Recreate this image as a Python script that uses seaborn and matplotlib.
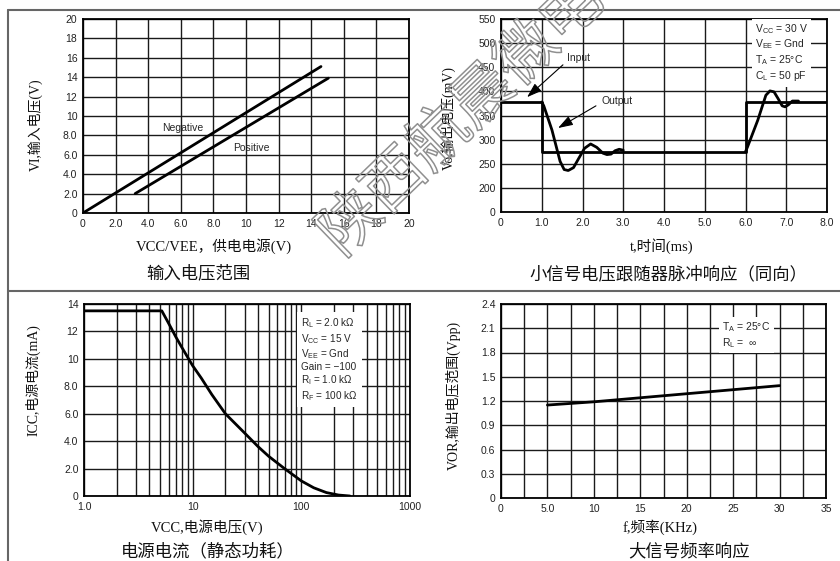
import numpy as np
import pandas as pd
import matplotlib
matplotlib.use("Agg")
import matplotlib.pyplot as plt
import matplotlib.patheffects as pe
from matplotlib.lines import Line2D
from matplotlib.ticker import FixedLocator, NullFormatter, LogLocator
import seaborn as sns

# ---------------- data ----------------
# Panel 1: input voltage range
neg_vcc = [0.0, 14.6]
neg_vi = [0.0, 15.1]
pos_vcc = [3.2, 15.05]
pos_vi = [2.0, 13.9]

# Panel 2: pulse response
in_t = [0.0, 1.0, 1.0, 6.0, 6.0, 8.0]
in_v = [378, 378, 275, 275, 378, 378]
out1_t = [1.0, 1.05, 1.25, 1.45, 1.55, 1.65, 1.78, 1.9, 2.05, 2.2, 2.35, 2.5, 2.6, 2.7, 2.8, 2.9, 3.0]
out1_v = [378, 370, 320, 255, 238, 236, 242, 260, 282, 291, 284, 272, 269, 270, 277, 280, 278]
out2_t = [6.0, 6.05, 6.3, 6.5, 6.6, 6.7, 6.8, 6.9, 6.97, 7.05, 7.15, 7.3]
out2_v = [275, 285, 340, 392, 401, 399, 385, 370, 368, 372, 380, 380]

# Panel 3: supply current
icc_v = [1.0, 5.2, 6, 7, 8, 10, 12, 15, 20, 30, 40, 50, 70, 100, 130, 170, 220, 280]
icc_i = [13.5, 13.5, 12.6, 11.6, 10.8, 9.5, 8.6, 7.4, 6.0, 4.6, 3.6, 2.9, 2.0, 1.1, 0.6, 0.25, 0.07, 0.0]

# Panel 4: large signal frequency response
f_khz = [5, 10, 15, 20, 25, 30]
vor = [1.15, 1.19, 1.24, 1.29, 1.34, 1.39]

# tick labels
p1_ticks = list(range(0, 21, 2))
p1_labels = ['0', '2.0', '4.0', '6.0', '8.0', '10', '12', '14', '16', '18', '20']
p2_xticks = list(range(0, 9))
p2_xlabels = ['0', '1.0', '2.0', '3.0', '4.0', '5.0', '6.0', '7.0', '8.0']
p2_yticks = [0, 200, 250, 300, 350, 400, 450, 500, 550]
p2_ylabels = ['0', '200', '250', '300', '350', '400', '450', '500', '550']
p3_xticks = [1, 10, 100, 1000]
p3_xlabels = ['1.0', '10', '100', '1000']
p3_yticks = list(range(0, 15, 2))
p3_ylabels = ['0', '2.0', '4.0', '6.0', '8.0', '10', '12', '14']
p4_xticks = list(range(0, 36, 5))
p4_xlabels = ['0', '5.0', '10', '15', '20', '25', '30', '35']
p4_yticks = [0, 0.3, 0.6, 0.9, 1.2, 1.5, 1.8, 2.1, 2.4]
p4_ylabels = ['0', '0.3', '0.6', '0.9', '1.2', '1.5', '1.8', '2.1', '2.4']

# ---------------- style ----------------
sns.set_style("white")
plt.rcParams['font.family'] = ['Liberation Sans', 'DejaVu Sans']
plt.rcParams['mathtext.fontset'] = 'custom'
plt.rcParams['mathtext.rm'] = 'Liberation Sans'

SERIF = ['Liberation Serif', 'Noto Sans CJK SC']
CJK = ['Noto Sans CJK SC', 'Liberation Serif']
W, H = 840, 561
fig = plt.figure(figsize=(W / 100, H / 100), dpi=100)


def rect(x0, y0, x1, y1):
    return [x0 / W, 1 - y1 / H, (x1 - x0) / W, (y1 - y0) / H]


def style_ax(ax):
    ax.grid(True, which='both', color='#1a1a1a', lw=1.0)
    ax.set_axisbelow(True)
    for s in ax.spines.values():
        s.set_color('black')
        s.set_linewidth(1.3)
    ax.tick_params(length=0, pad=4, labelsize=7.5, labelcolor='#222')
    ax.tick_params(which='minor', length=0)
    ax.set_xlabel('')
    ax.set_ylabel('')


def ftext(x, y, s, size, rot=0, fam=SERIF):
    fig.text(x / W, 1 - y / H, s, fontsize=size, rotation=rot, family=fam,
             ha='center', va='center', color='#111')


LW = 2.0

# ---- Panel 1 ----
ax1 = fig.add_axes(rect(83, 19, 409, 213))
sns.lineplot(x=neg_vcc, y=neg_vi, ax=ax1, color='black', lw=LW, sort=False, estimator=None)
sns.lineplot(x=pos_vcc, y=pos_vi, ax=ax1, color='black', lw=LW, sort=False, estimator=None)
ax1.set_xlim(0, 20)
ax1.set_ylim(0, 20)
ax1.set_xticks(p1_ticks, p1_labels)
ax1.set_yticks(p1_ticks, p1_labels)
style_ax(ax1)
ax1.text(4.83, 8.8, 'Negative', fontsize=7.5, va='center', ha='left')
ax1.text(9.2, 6.75, 'Positive', fontsize=7.5, va='center', ha='left')

# ---- Panel 2 ----
ax2 = fig.add_axes(rect(501, 19, 827, 212))


def fwd(v):
    v = np.asarray(v, dtype=float)
    return np.where(v < 200, v / 200.0, (v - 150.0) / 50.0)


def inv(p):
    p = np.asarray(p, dtype=float)
    return np.where(p < 1, p * 200.0, p * 50.0 + 150.0)


ax2.set_yscale('function', functions=(fwd, inv))
sns.lineplot(x=in_t, y=in_v, ax=ax2, color='black', lw=LW, sort=False, estimator=None)
sns.lineplot(x=out1_t, y=out1_v, ax=ax2, color='black', lw=LW, sort=False, estimator=None)
sns.lineplot(x=out2_t, y=out2_v, ax=ax2, color='black', lw=LW, sort=False, estimator=None)
ax2.set_xlim(0, 8)
ax2.set_ylim(0, 550)
ax2.set_xticks(p2_xticks, p2_xlabels)
ax2.yaxis.set_major_locator(FixedLocator(p2_yticks))
ax2.set_yticks(p2_yticks, p2_ylabels)
ax2.yaxis.set_minor_formatter(NullFormatter())
ax2.yaxis.set_minor_locator(FixedLocator([]))
style_ax(ax2)
arrow = dict(arrowstyle='-|>,head_length=0.9,head_width=0.3', lw=0.8, color='black',
             shrinkA=0, shrinkB=0)
ax2.annotate('', xy=(0.64, 388), xytext=(1.52, 455), arrowprops=arrow)
ax2.text(1.61, 469, 'Input', fontsize=7.5, va='center', ha='left')
ax2.annotate('', xy=(1.40, 324), xytext=(2.33, 370), arrowprops=arrow)
ax2.text(2.47, 380, 'Output', fontsize=7.5, va='center', ha='left')
ax2.text(0.779, 0.985,
         'V$_\\mathregular{CC}$ = 30 V\nV$_\\mathregular{EE}$ = Gnd\n'
         'T$_\\mathregular{A}$ = 25°C\nC$_\\mathregular{L}$ = 50 pF',
         transform=ax2.transAxes, fontsize=7.5, va='top', ha='left', linespacing=1.2,
         bbox=dict(facecolor='white', edgecolor='none', pad=2.5))

# ---- Panel 3 ----
ax3 = fig.add_axes(rect(84, 304, 410, 496))
ax3.set_xscale('log')
sns.lineplot(x=icc_v, y=icc_i, ax=ax3, color='black', lw=LW, sort=False, estimator=None)
ax3.set_xlim(1, 1000)
ax3.set_ylim(0, 14)
ax3.set_xticks(p3_xticks, p3_xlabels)
ax3.xaxis.set_minor_locator(LogLocator(base=10, subs=np.arange(2, 10)))
ax3.xaxis.set_minor_formatter(NullFormatter())
ax3.set_yticks(p3_yticks, p3_ylabels)
style_ax(ax3)
ax3.text(0.665, 0.935,
         'R$_\\mathregular{L}$ = 2.0 kΩ\nV$_\\mathregular{CC}$ = 15 V\nV$_\\mathregular{EE}$ = Gnd\n'
         'Gain = −100\nR$_\\mathregular{I}$ = 1.0 kΩ\nR$_\\mathregular{F}$ = 100 kΩ',
         transform=ax3.transAxes, fontsize=7.2, va='top', ha='left', linespacing=1.15,
         bbox=dict(facecolor='white', edgecolor='none', pad=3))

# ---- Panel 4 ----
ax4 = fig.add_axes(rect(501, 304, 826, 498))
sns.lineplot(x=f_khz, y=vor, ax=ax4, color='black', lw=LW, sort=False, estimator=None)
ax4.set_xlim(0, 35)
ax4.set_ylim(0, 2.4)
ax4.set_xticks(p4_xticks, p4_xlabels)
ax4.xaxis.set_minor_locator(FixedLocator(np.arange(2.5, 35, 5)))
ax4.set_yticks(p4_yticks, p4_ylabels)
style_ax(ax4)
ax4.text(0.68, 0.915, 'T$_\\mathregular{A}$ = 25°C\nR$_\\mathregular{L}$ =  ∞',
         transform=ax4.transAxes, fontsize=7.5, va='top', ha='left', linespacing=1.15,
         bbox=dict(facecolor='white', edgecolor='none', pad=2.5))

# ---- labels and titles ----
ftext(35, 125, 'VI,输入电压(V)', 10, rot=90)
ftext(214, 246, 'VCC/VEE，供电电源(V)', 10.5)
ftext(198, 273, '输入电压范围', 12.5, fam=CJK)

ftext(448, 118, 'Vo,输出电压(mV)', 10, rot=90)
ftext(662, 246, 't,时间(ms)', 10.5)
ftext(668, 274, '小信号电压跟随器脉冲响应（同向）', 12.5, fam=CJK)

ftext(33, 380, 'ICC,电源电流(mA)', 10, rot=90)
ftext(207, 527, 'VCC,电源电压(V)', 10.5)
ftext(208, 551, '电源电流（静态功耗）', 12.5, fam=CJK)

ftext(453, 395, 'VOR,输出电压范围(Vpp)', 10, rot=90)
ftext(660, 527, 'f,频率(KHz)', 10.5)
ftext(689, 551, '大信号频率响应', 12.5, fam=CJK)

# ---- table borders ----
bc = '#666666'
fig.add_artist(Line2D([8 / W, 8 / W], [0, 1 - 10 / H], color=bc, lw=1.5))
fig.add_artist(Line2D([8 / W, 1], [1 - 10 / H, 1 - 10 / H], color=bc, lw=1.5))
fig.add_artist(Line2D([8 / W, 1], [1 - 291 / H, 1 - 291 / H], color=bc, lw=1.5))

# ---- watermark ----
fig.text(462 / W, 1 - 118 / H, '陕西航晨微电', fontsize=44, rotation=44,
         family=['Noto Sans CJK SC'], ha='center', va='center', rotation_mode='anchor',
         color=(1, 1, 1, 0),
         path_effects=[pe.Stroke(linewidth=1.1, foreground='#8f8f8f')], zorder=10)

fig.savefig('out.png', dpi=100)
